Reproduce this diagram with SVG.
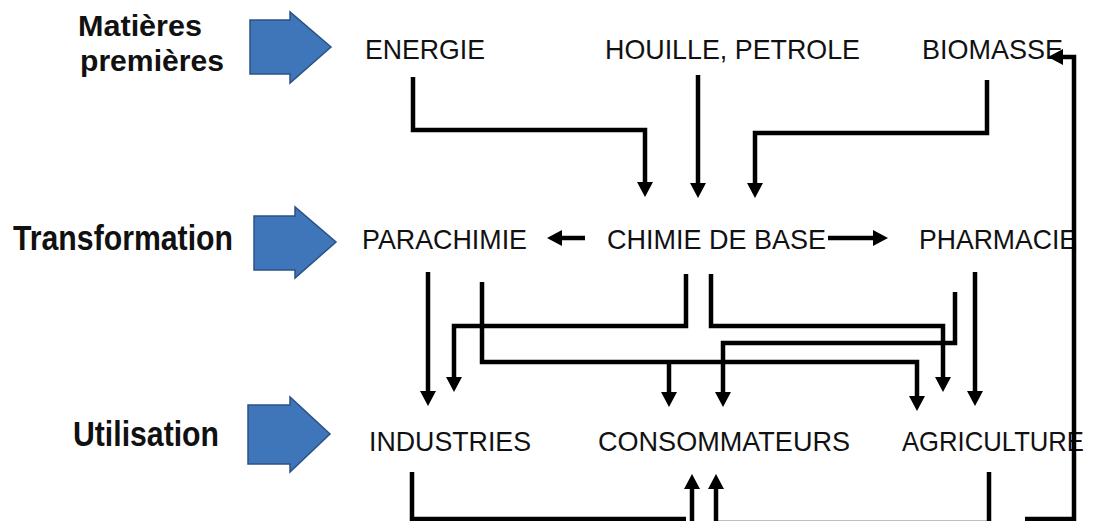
<svg xmlns="http://www.w3.org/2000/svg" width="1095" height="521" viewBox="0 0 1095 521">
<style>
.bg{fill:#ffffff}
.big{fill:#3f76ba;stroke:#2b5285;stroke-width:1.5;stroke-linejoin:miter}
.hdr{font-family:"Liberation Sans",Arial,sans-serif;font-weight:bold;fill:#111}
.lbl{font-family:"Liberation Sans",Arial,sans-serif;font-size:28.5px;fill:#111}
.con{fill:none;stroke:#000;stroke-width:4.5;stroke-linejoin:miter;stroke-linecap:butt}
</style>
<defs>
<marker id="ah" markerUnits="userSpaceOnUse" viewBox="0 0 16 16" markerWidth="16" markerHeight="16" refX="1" refY="8" orient="auto">
<path d="M0,0 L15,8 L0,16 z" fill="#000"/>
</marker>
</defs>
<rect class="bg" x="0" y="0" width="1095" height="521"/>

<g id="stage-matieres">
<text class="hdr" x="78" y="36" font-size="30" textLength="124" lengthAdjust="spacingAndGlyphs">Matières</text>
<text class="hdr" x="80" y="71" font-size="30" textLength="144" lengthAdjust="spacingAndGlyphs">premières</text>
<polygon class="big" points="250,20 290,20 290,12 331,47 290,83 290,74 250,74"/>
</g>
<g id="stage-transformation">
<text class="hdr" x="13" y="250" font-size="35" textLength="220" lengthAdjust="spacingAndGlyphs">Transformation</text>
<polygon class="big" points="254,216 295,216 295,207 336,242 295,278 295,270 254,270"/>
</g>
<g id="stage-utilisation">
<text class="hdr" x="73" y="446" font-size="35" textLength="146" lengthAdjust="spacingAndGlyphs">Utilisation</text>
<polygon class="big" points="248,405 290,405 290,397 330,434 290,472 290,464 248,464"/>
</g>

<g id="node-energie"><text class="lbl" x="365" y="59" textLength="120" lengthAdjust="spacingAndGlyphs">ENERGIE</text></g>
<g id="node-houille"><text class="lbl" x="605" y="59" textLength="255" lengthAdjust="spacingAndGlyphs">HOUILLE, PETROLE</text></g>
<g id="node-biomasse"><text class="lbl" x="922" y="59" textLength="141" lengthAdjust="spacingAndGlyphs">BIOMASSE</text></g>
<g id="node-parachimie"><text class="lbl" x="362" y="249" textLength="165" lengthAdjust="spacingAndGlyphs">PARACHIMIE</text></g>
<g id="node-chimie"><text class="lbl" x="607" y="249" textLength="219" lengthAdjust="spacingAndGlyphs">CHIMIE DE BASE</text></g>
<g id="node-pharmacie"><text class="lbl" x="919" y="249" textLength="158" lengthAdjust="spacingAndGlyphs">PHARMACIE</text></g>
<g id="node-industries"><text class="lbl" x="369" y="451" textLength="162" lengthAdjust="spacingAndGlyphs">INDUSTRIES</text></g>
<g id="node-consommateurs"><text class="lbl" x="598" y="451" textLength="252" lengthAdjust="spacingAndGlyphs">CONSOMMATEURS</text></g>
<g id="node-agriculture"><text class="lbl" x="902" y="451" textLength="182" lengthAdjust="spacingAndGlyphs">AGRICULTURE</text></g>

<g id="connectors">
<path class="con" d="M413,77 V130 H645 V183" marker-end="url(#ah)"/>
<path class="con" d="M698,75 V184" marker-end="url(#ah)"/>
<path class="con" d="M987,80 V133 H755 V184" marker-end="url(#ah)"/>
<path class="con" d="M585,238 H561" marker-end="url(#ah)"/>
<path class="con" d="M828,238 H874" marker-end="url(#ah)"/>
<path class="con" d="M428,272 V392" marker-end="url(#ah)"/>
<path class="con" d="M482,282 V362 H917 V397" marker-end="url(#ah)"/>
<path class="con" d="M669,362 V393" marker-end="url(#ah)"/>
<path class="con" d="M686,274 V326 H454 V378" marker-end="url(#ah)"/>
<path class="con" d="M711,274 V326 H943 V378" marker-end="url(#ah)"/>
<path class="con" d="M955,292 V343 H723 V393" marker-end="url(#ah)"/>
<path class="con" d="M975,272 V392" marker-end="url(#ah)"/>
<path class="con" d="M412,472 V519 H686"/>
<path class="con" d="M692,530 V488" marker-end="url(#ah)"/>
<path class="con" d="M989,472 V523 H716"/>
<path class="con" d="M716,530 V488" marker-end="url(#ah)"/>
<path class="con" d="M1025,519 H1074 V57 H1062" marker-end="url(#ah)"/>
</g>
</svg>
